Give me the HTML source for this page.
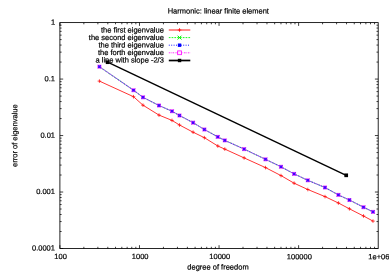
<!DOCTYPE html><html><head><meta charset="utf-8"><style>html,body{margin:0;padding:0;background:#fff}svg{display:block;filter:blur(0.45px)}text{text-rendering:geometricPrecision;font-family:"Liberation Sans",sans-serif;font-size:7.5px;fill:#000;stroke:#000;stroke-width:0.2px}</style></head><body>
<svg width="389" height="273" viewBox="0 0 389 273">
<rect width="389" height="273" fill="#fff"/>
<rect x="59.9" y="22.6" width="318.3" height="225.9" fill="none" stroke="#000" stroke-width="0.85"/>
<path d="M59.90 248.5v-3.3M59.90 22.6v3.3M59.9 248.50h3.3M378.2 248.50h-3.3M83.85 248.5v-1.7M83.85 22.6v1.7M59.9 231.50h1.7M378.2 231.50h-1.7M97.87 248.5v-1.7M97.87 22.6v1.7M59.9 221.55h1.7M378.2 221.55h-1.7M107.81 248.5v-1.7M107.81 22.6v1.7M59.9 214.50h1.7M378.2 214.50h-1.7M115.52 248.5v-1.7M115.52 22.6v1.7M59.9 209.03h1.7M378.2 209.03h-1.7M121.82 248.5v-1.7M121.82 22.6v1.7M59.9 204.55h1.7M378.2 204.55h-1.7M127.15 248.5v-1.7M127.15 22.6v1.7M59.9 200.77h1.7M378.2 200.77h-1.7M131.76 248.5v-1.7M131.76 22.6v1.7M59.9 197.50h1.7M378.2 197.50h-1.7M135.83 248.5v-1.7M135.83 22.6v1.7M59.9 194.61h1.7M378.2 194.61h-1.7M139.47 248.5v-3.3M139.47 22.6v3.3M59.9 192.03h3.3M378.2 192.03h-3.3M163.43 248.5v-1.7M163.43 22.6v1.7M59.9 175.02h1.7M378.2 175.02h-1.7M177.44 248.5v-1.7M177.44 22.6v1.7M59.9 165.08h1.7M378.2 165.08h-1.7M187.38 248.5v-1.7M187.38 22.6v1.7M59.9 158.02h1.7M378.2 158.02h-1.7M195.10 248.5v-1.7M195.10 22.6v1.7M59.9 152.55h1.7M378.2 152.55h-1.7M201.40 248.5v-1.7M201.40 22.6v1.7M59.9 148.08h1.7M378.2 148.08h-1.7M206.72 248.5v-1.7M206.72 22.6v1.7M59.9 144.30h1.7M378.2 144.30h-1.7M211.34 248.5v-1.7M211.34 22.6v1.7M59.9 141.02h1.7M378.2 141.02h-1.7M215.41 248.5v-1.7M215.41 22.6v1.7M59.9 138.13h1.7M378.2 138.13h-1.7M219.05 248.5v-3.3M219.05 22.6v3.3M59.9 135.55h3.3M378.2 135.55h-3.3M243.00 248.5v-1.7M243.00 22.6v1.7M59.9 118.55h1.7M378.2 118.55h-1.7M257.02 248.5v-1.7M257.02 22.6v1.7M59.9 108.60h1.7M378.2 108.60h-1.7M266.96 248.5v-1.7M266.96 22.6v1.7M59.9 101.55h1.7M378.2 101.55h-1.7M274.67 248.5v-1.7M274.67 22.6v1.7M59.9 96.08h1.7M378.2 96.08h-1.7M280.97 248.5v-1.7M280.97 22.6v1.7M59.9 91.60h1.7M378.2 91.60h-1.7M286.30 248.5v-1.7M286.30 22.6v1.7M59.9 87.82h1.7M378.2 87.82h-1.7M290.91 248.5v-1.7M290.91 22.6v1.7M59.9 84.55h1.7M378.2 84.55h-1.7M294.98 248.5v-1.7M294.98 22.6v1.7M59.9 81.66h1.7M378.2 81.66h-1.7M298.62 248.5v-3.3M298.62 22.6v3.3M59.9 79.07h3.3M378.2 79.07h-3.3M322.58 248.5v-1.7M322.58 22.6v1.7M59.9 62.07h1.7M378.2 62.07h-1.7M336.59 248.5v-1.7M336.59 22.6v1.7M59.9 52.13h1.7M378.2 52.13h-1.7M346.53 248.5v-1.7M346.53 22.6v1.7M59.9 45.07h1.7M378.2 45.07h-1.7M354.25 248.5v-1.7M354.25 22.6v1.7M59.9 39.60h1.7M378.2 39.60h-1.7M360.55 248.5v-1.7M360.55 22.6v1.7M59.9 35.13h1.7M378.2 35.13h-1.7M365.87 248.5v-1.7M365.87 22.6v1.7M59.9 31.35h1.7M378.2 31.35h-1.7M370.49 248.5v-1.7M370.49 22.6v1.7M59.9 28.07h1.7M378.2 28.07h-1.7M374.56 248.5v-1.7M374.56 22.6v1.7M59.9 25.18h1.7M378.2 25.18h-1.7" stroke="#000" stroke-width="0.75" fill="none"/>
<g transform="rotate(0.04,195,136)">
<text x="60.70" y="259.10" text-anchor="middle">100</text>
<text x="140.28" y="259.10" text-anchor="middle">1000</text>
<text x="219.85" y="259.10" text-anchor="middle">10000</text>
<text x="299.43" y="259.10" text-anchor="middle">100000</text>
<text x="379.00" y="259.10" text-anchor="middle">1e+06</text>
<text x="55.00" y="250.70" text-anchor="end">0.0001</text>
<text x="55.00" y="194.22" text-anchor="end">0.001</text>
<text x="55.00" y="137.75" text-anchor="end">0.01</text>
<text x="55.00" y="81.27" text-anchor="end">0.1</text>
<text x="55.00" y="24.80" text-anchor="end">1</text>
<text x="218.2" y="13.5" text-anchor="middle">Harmonic: linear finite element</text>
<text x="218.1" y="269.4" text-anchor="middle">degree of freedom</text>
<text transform="translate(17.3,135.8) rotate(-90)" text-anchor="middle">error of eigenvalue</text>
<text x="163.8" y="32.55" text-anchor="end">the first eigenvalue</text>
<text x="163.8" y="40.10" text-anchor="end">the second eigenvalue</text>
<text x="163.8" y="47.60" text-anchor="end">the third eigenvalue</text>
<text x="163.8" y="55.10" text-anchor="end">the forth eigenvalue</text>
<text x="163.8" y="62.60" text-anchor="end">a line with slope -2/3</text>
</g>
<polyline points="99.4,66.7 133.5,90.2 143,97.3 159,105.5 172,111.2 179.5,115.5 193.1,122.7 204.4,129.5 217.8,136.9 224.8,140.4 244.1,149.1 265.5,159.3 281,166.8 294.1,173.9 307.8,180.3 325,187.5 338.4,194.9 349.4,200 363.5,207.2 373,211.9" fill="none" stroke="#00ff00" stroke-width="1.1" stroke-dasharray="2.4 1.2" opacity="0.6"/>
<polyline points="99.4,81.1 133.5,96.7 143,105.2 159,115.1 172,120.4 179.5,125 193.1,132.2 204.4,137.7 217.8,146.0 224.8,149.1 244.1,157.9 265.5,167.6 281,175.6 294.1,183.2 307.8,189.5 325,196.6 338.4,203 349.4,208.8 363.5,216 373,221.1" fill="none" stroke="#ff0000" stroke-width="0.8"/>
<path d="M97.60000000000001 81.1h3.6M99.4 79.3v3.6" stroke="#ff0000" stroke-width="0.7" fill="none"/>
<path d="M131.7 96.7h3.6M133.5 94.9v3.6" stroke="#ff0000" stroke-width="0.7" fill="none"/>
<path d="M141.2 105.2h3.6M143 103.4v3.6" stroke="#ff0000" stroke-width="0.7" fill="none"/>
<path d="M157.2 115.1h3.6M159 113.3v3.6" stroke="#ff0000" stroke-width="0.7" fill="none"/>
<path d="M170.2 120.4h3.6M172 118.60000000000001v3.6" stroke="#ff0000" stroke-width="0.7" fill="none"/>
<path d="M177.7 125h3.6M179.5 123.2v3.6" stroke="#ff0000" stroke-width="0.7" fill="none"/>
<path d="M191.29999999999998 132.2h3.6M193.1 130.39999999999998v3.6" stroke="#ff0000" stroke-width="0.7" fill="none"/>
<path d="M202.6 137.7h3.6M204.4 135.89999999999998v3.6" stroke="#ff0000" stroke-width="0.7" fill="none"/>
<path d="M216.0 146.0h3.6M217.8 144.2v3.6" stroke="#ff0000" stroke-width="0.7" fill="none"/>
<path d="M223.0 149.1h3.6M224.8 147.29999999999998v3.6" stroke="#ff0000" stroke-width="0.7" fill="none"/>
<path d="M242.29999999999998 157.9h3.6M244.1 156.1v3.6" stroke="#ff0000" stroke-width="0.7" fill="none"/>
<path d="M263.7 167.6h3.6M265.5 165.79999999999998v3.6" stroke="#ff0000" stroke-width="0.7" fill="none"/>
<path d="M279.2 175.6h3.6M281 173.79999999999998v3.6" stroke="#ff0000" stroke-width="0.7" fill="none"/>
<path d="M292.3 183.2h3.6M294.1 181.39999999999998v3.6" stroke="#ff0000" stroke-width="0.7" fill="none"/>
<path d="M306.0 189.5h3.6M307.8 187.7v3.6" stroke="#ff0000" stroke-width="0.7" fill="none"/>
<path d="M323.2 196.6h3.6M325 194.79999999999998v3.6" stroke="#ff0000" stroke-width="0.7" fill="none"/>
<path d="M336.59999999999997 203h3.6M338.4 201.2v3.6" stroke="#ff0000" stroke-width="0.7" fill="none"/>
<path d="M347.59999999999997 208.8h3.6M349.4 207.0v3.6" stroke="#ff0000" stroke-width="0.7" fill="none"/>
<path d="M361.7 216h3.6M363.5 214.2v3.6" stroke="#ff0000" stroke-width="0.7" fill="none"/>
<path d="M371.2 221.1h3.6M373 219.29999999999998v3.6" stroke="#ff0000" stroke-width="0.7" fill="none"/>
<polyline points="99.4,66.7 133.5,90.2 143,97.3 159,105.5 172,111.2 179.5,115.5 193.1,122.7 204.4,129.5 217.8,136.9 224.8,140.4 244.1,149.1 265.5,159.3 281,166.8 294.1,173.9 307.8,180.3 325,187.5 338.4,194.9 349.4,200 363.5,207.2 373,211.9" fill="none" stroke="#8840ff" stroke-width="0.75" opacity="0.75"/>
<polyline points="99.4,66.7 133.5,90.2 143,97.3 159,105.5 172,111.2 179.5,115.5 193.1,122.7 204.4,129.5 217.8,136.9 224.8,140.4 244.1,149.1 265.5,159.3 281,166.8 294.1,173.9 307.8,180.3 325,187.5 338.4,194.9 349.4,200 363.5,207.2 373,211.9" fill="none" stroke="#0000ff" stroke-width="0.8" stroke-dasharray="1 1.5" opacity="0.7"/>
<polyline points="99.4,66.7 133.5,90.2 143,97.3 159,105.5 172,111.2 179.5,115.5 193.1,122.7 204.4,129.5 217.8,136.9 224.8,140.4 244.1,149.1 265.5,159.3 281,166.8 294.1,173.9 307.8,180.3 325,187.5 338.4,194.9 349.4,200 363.5,207.2 373,211.9" fill="none" stroke="#ff00ff" stroke-width="0.8" stroke-dasharray="1.2 1.3" stroke-dashoffset="1.3" opacity="0.55"/>
<rect x="97.4" y="64.7" width="4.0" height="4.0" fill="#f030ff" opacity="0.85"/>
<path d="M97.95 65.25l2.9 2.9M97.95 68.15l2.9 -2.9" stroke="#3a08ff" stroke-width="0.9" fill="none"/>
<rect x="98.2" y="65.5" width="2.4" height="2.4" fill="#3a08ff"/>
<rect x="131.5" y="88.2" width="4.0" height="4.0" fill="#f030ff" opacity="0.85"/>
<path d="M132.05 88.75l2.9 2.9M132.05 91.65l2.9 -2.9" stroke="#3a08ff" stroke-width="0.9" fill="none"/>
<rect x="132.3" y="89.0" width="2.4" height="2.4" fill="#3a08ff"/>
<rect x="141.0" y="95.3" width="4.0" height="4.0" fill="#f030ff" opacity="0.85"/>
<path d="M141.55 95.85l2.9 2.9M141.55 98.75l2.9 -2.9" stroke="#3a08ff" stroke-width="0.9" fill="none"/>
<rect x="141.8" y="96.1" width="2.4" height="2.4" fill="#3a08ff"/>
<rect x="157.0" y="103.5" width="4.0" height="4.0" fill="#f030ff" opacity="0.85"/>
<path d="M157.55 104.05l2.9 2.9M157.55 106.95l2.9 -2.9" stroke="#3a08ff" stroke-width="0.9" fill="none"/>
<rect x="157.8" y="104.3" width="2.4" height="2.4" fill="#3a08ff"/>
<rect x="170.0" y="109.2" width="4.0" height="4.0" fill="#f030ff" opacity="0.85"/>
<path d="M170.55 109.75l2.9 2.9M170.55 112.65l2.9 -2.9" stroke="#3a08ff" stroke-width="0.9" fill="none"/>
<rect x="170.8" y="110.0" width="2.4" height="2.4" fill="#3a08ff"/>
<rect x="177.5" y="113.5" width="4.0" height="4.0" fill="#f030ff" opacity="0.85"/>
<path d="M178.05 114.05l2.9 2.9M178.05 116.95l2.9 -2.9" stroke="#3a08ff" stroke-width="0.9" fill="none"/>
<rect x="178.3" y="114.3" width="2.4" height="2.4" fill="#3a08ff"/>
<rect x="191.1" y="120.7" width="4.0" height="4.0" fill="#f030ff" opacity="0.85"/>
<path d="M191.65 121.25l2.9 2.9M191.65 124.15l2.9 -2.9" stroke="#3a08ff" stroke-width="0.9" fill="none"/>
<rect x="191.9" y="121.5" width="2.4" height="2.4" fill="#3a08ff"/>
<rect x="202.4" y="127.5" width="4.0" height="4.0" fill="#f030ff" opacity="0.85"/>
<path d="M202.95000000000002 128.05l2.9 2.9M202.95000000000002 130.95l2.9 -2.9" stroke="#3a08ff" stroke-width="0.9" fill="none"/>
<rect x="203.20000000000002" y="128.3" width="2.4" height="2.4" fill="#3a08ff"/>
<rect x="215.8" y="134.9" width="4.0" height="4.0" fill="#f030ff" opacity="0.85"/>
<path d="M216.35000000000002 135.45000000000002l2.9 2.9M216.35000000000002 138.35l2.9 -2.9" stroke="#3a08ff" stroke-width="0.9" fill="none"/>
<rect x="216.60000000000002" y="135.70000000000002" width="2.4" height="2.4" fill="#3a08ff"/>
<rect x="222.8" y="138.4" width="4.0" height="4.0" fill="#f030ff" opacity="0.85"/>
<path d="M223.35000000000002 138.95000000000002l2.9 2.9M223.35000000000002 141.85l2.9 -2.9" stroke="#3a08ff" stroke-width="0.9" fill="none"/>
<rect x="223.60000000000002" y="139.20000000000002" width="2.4" height="2.4" fill="#3a08ff"/>
<rect x="242.1" y="147.1" width="4.0" height="4.0" fill="#f030ff" opacity="0.85"/>
<path d="M242.65 147.65l2.9 2.9M242.65 150.54999999999998l2.9 -2.9" stroke="#3a08ff" stroke-width="0.9" fill="none"/>
<rect x="242.9" y="147.9" width="2.4" height="2.4" fill="#3a08ff"/>
<rect x="263.5" y="157.3" width="4.0" height="4.0" fill="#f030ff" opacity="0.85"/>
<path d="M264.05 157.85000000000002l2.9 2.9M264.05 160.75l2.9 -2.9" stroke="#3a08ff" stroke-width="0.9" fill="none"/>
<rect x="264.3" y="158.10000000000002" width="2.4" height="2.4" fill="#3a08ff"/>
<rect x="279.0" y="164.8" width="4.0" height="4.0" fill="#f030ff" opacity="0.85"/>
<path d="M279.55 165.35000000000002l2.9 2.9M279.55 168.25l2.9 -2.9" stroke="#3a08ff" stroke-width="0.9" fill="none"/>
<rect x="279.8" y="165.60000000000002" width="2.4" height="2.4" fill="#3a08ff"/>
<rect x="292.1" y="171.9" width="4.0" height="4.0" fill="#f030ff" opacity="0.85"/>
<path d="M292.65000000000003 172.45000000000002l2.9 2.9M292.65000000000003 175.35l2.9 -2.9" stroke="#3a08ff" stroke-width="0.9" fill="none"/>
<rect x="292.90000000000003" y="172.70000000000002" width="2.4" height="2.4" fill="#3a08ff"/>
<rect x="305.8" y="178.3" width="4.0" height="4.0" fill="#f030ff" opacity="0.85"/>
<path d="M306.35 178.85000000000002l2.9 2.9M306.35 181.75l2.9 -2.9" stroke="#3a08ff" stroke-width="0.9" fill="none"/>
<rect x="306.6" y="179.10000000000002" width="2.4" height="2.4" fill="#3a08ff"/>
<rect x="323.0" y="185.5" width="4.0" height="4.0" fill="#f030ff" opacity="0.85"/>
<path d="M323.55 186.05l2.9 2.9M323.55 188.95l2.9 -2.9" stroke="#3a08ff" stroke-width="0.9" fill="none"/>
<rect x="323.8" y="186.3" width="2.4" height="2.4" fill="#3a08ff"/>
<rect x="336.4" y="192.9" width="4.0" height="4.0" fill="#f030ff" opacity="0.85"/>
<path d="M336.95 193.45000000000002l2.9 2.9M336.95 196.35l2.9 -2.9" stroke="#3a08ff" stroke-width="0.9" fill="none"/>
<rect x="337.2" y="193.70000000000002" width="2.4" height="2.4" fill="#3a08ff"/>
<rect x="347.4" y="198.0" width="4.0" height="4.0" fill="#f030ff" opacity="0.85"/>
<path d="M347.95 198.55l2.9 2.9M347.95 201.45l2.9 -2.9" stroke="#3a08ff" stroke-width="0.9" fill="none"/>
<rect x="348.2" y="198.8" width="2.4" height="2.4" fill="#3a08ff"/>
<rect x="361.5" y="205.2" width="4.0" height="4.0" fill="#f030ff" opacity="0.85"/>
<path d="M362.05 205.75l2.9 2.9M362.05 208.64999999999998l2.9 -2.9" stroke="#3a08ff" stroke-width="0.9" fill="none"/>
<rect x="362.3" y="206.0" width="2.4" height="2.4" fill="#3a08ff"/>
<rect x="371.0" y="209.9" width="4.0" height="4.0" fill="#f030ff" opacity="0.85"/>
<path d="M371.55 210.45000000000002l2.9 2.9M371.55 213.35l2.9 -2.9" stroke="#3a08ff" stroke-width="0.9" fill="none"/>
<rect x="371.8" y="210.70000000000002" width="2.4" height="2.4" fill="#3a08ff"/>
<path d="M107.6 62.2L346.2 175.3" stroke="#000" stroke-width="1.4" fill="none"/>
<rect x="105.75" y="60.35" width="3.7" height="3.7" fill="#000"/>
<rect x="344.34999999999997" y="173.45000000000002" width="3.7" height="3.7" fill="#000"/>
<path d="M168.8 30.0H190.3" stroke="#ff0000" stroke-width="0.9"/><path d="M177.75 30.0h3.6M179.55 28.2v3.6" stroke="#ff0000" stroke-width="0.8" fill="none"/>
<path d="M168.8 37.6H190.3" stroke="#00ff00" stroke-width="0.9" stroke-dasharray="1.7 1.1"/><path d="M177.65 35.7l3.8 3.8M177.65 39.5l3.8 -3.8" stroke="#00ee00" stroke-width="1.0" fill="none"/>
<path d="M168.8 45.2H190.3" stroke="#0000ff" stroke-width="0.9" stroke-dasharray="1 1.4"/><rect x="177.85000000000002" y="43.5" width="3.4" height="3.4" fill="#0000ff"/>
<path d="M168.8 52.8H190.3" stroke="#ff00ff" stroke-width="0.8" stroke-dasharray="1.6 0.8 0.6 0.8"/><rect x="177.65" y="50.9" width="3.8" height="3.8" fill="#ffe8ff"/><rect x="177.65" y="50.9" width="3.8" height="3.8" fill="none" stroke="#ff00ff" stroke-width="0.8"/>
<path d="M168.8 60.5H190.3" stroke="#000" stroke-width="1.7"/><rect x="177.85000000000002" y="58.8" width="3.4" height="3.4" fill="#000"/>
</svg></body></html>
